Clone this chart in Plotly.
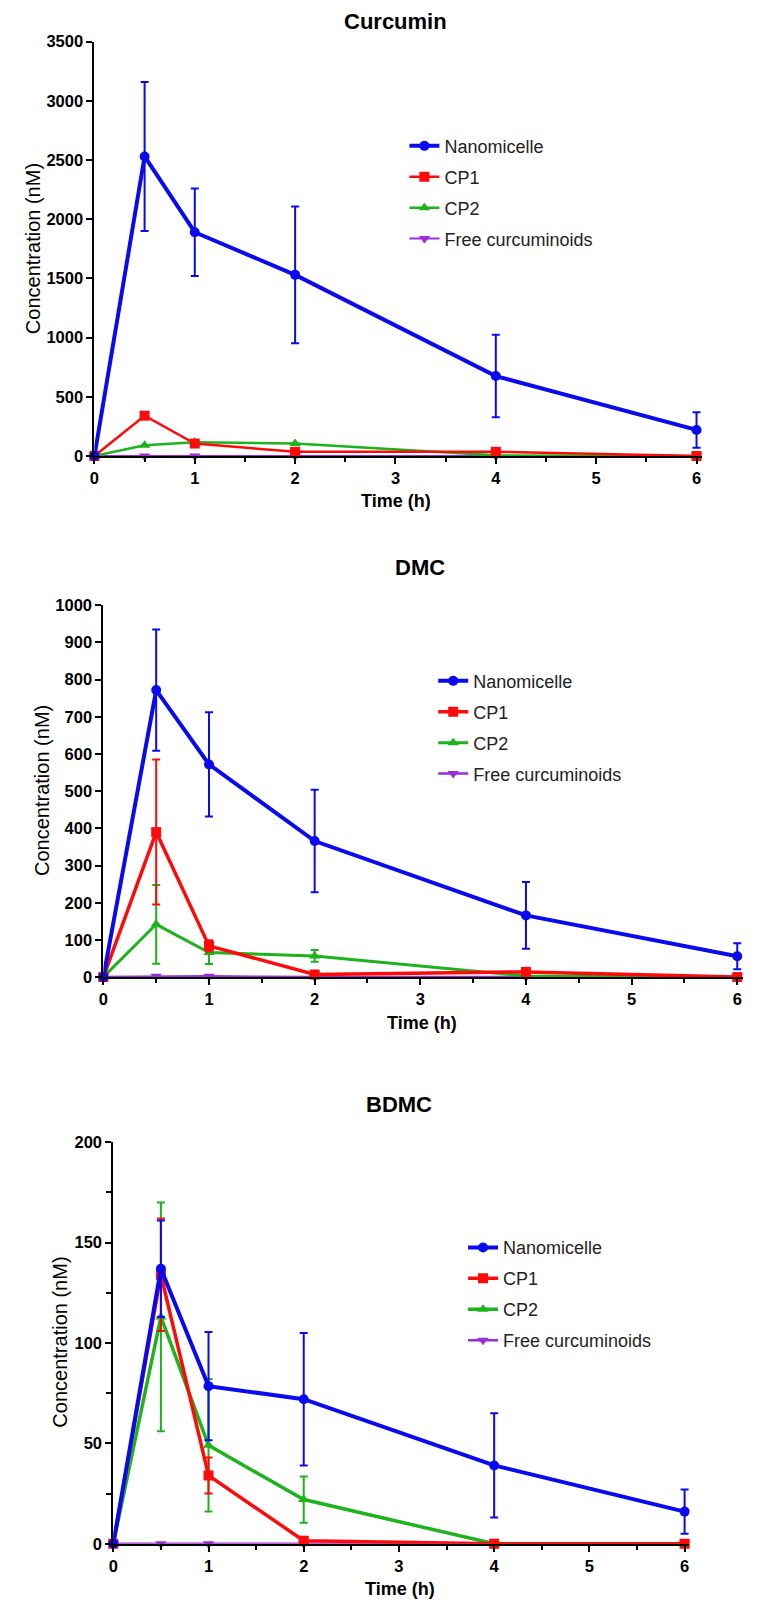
import plotly.graph_objects as go

W, H = 778, 1617

time = [0, 0.5, 1, 2, 4, 6]
series_names = ["Nanomicelle", "CP1", "CP2", "Free curcuminoids"]
panel_titles = ["Curcumin", "DMC", "BDMC"]
x_ticks = [0, 1, 2, 3, 4, 5, 6]

# Curcumin
cur_nano = [0, 2530, 1890, 1530, 675, 220]
cur_nano_err = [0, 630, 370, 577, 348, 150]
cur_cp1 = [0, 340, 105, 35, 35, 0]
cur_cp2 = [0, 90, 115, 105, 5, 0]
cur_free = [0, 0, 0, 0, 0, 0]

# DMC
dmc_nano = [0, 772, 572, 366, 166, 56]
dmc_nano_err = [0, 163, 140, 138, 90, 35]
dmc_cp1 = [0, 390, 84, 7, 14, 0]
dmc_cp1_err = [0, 195, 15, 0, 0, 0]
dmc_cp2 = [0, 142, 66, 57, 3, 0]
dmc_cp2_err = [0, 106, 31, 16, 0, 0]
dmc_free = [0, 2, 2, 0, 0, 0]

# BDMC
bdmc_nano = [0, 137, 78.5, 72, 39, 16]
bdmc_nano_err = [0, 24, 27, 33, 26, 11]
bdmc_cp1 = [0, 134, 34, 1.5, 0, 0]
bdmc_cp1_err = [0, 28, 9, 0, 0, 0]
bdmc_cp2 = [0, 113, 49, 22, 0, 0]
bdmc_cp2_err = [0, 57, 33, 11.5, 0, 0]
bdmc_free = [0, 0, 0, 0, 0, 0]

y_ranges = [[0, 3500], [0, 1000], [0, 200]]
y_dticks = [500, 100, 50]
y_minor = [None, None, 25]
X_MAX = 6.05

colors = {"Nanomicelle": "#0A0AEE", "CP1": "#FF0A0A", "CP2": "#1DB31D",
          "Free curcuminoids": "#9A2FD6"}
symbols = {"Nanomicelle": "circle", "CP1": "square", "CP2": "triangle-up",
           "Free curcuminoids": "triangle-down"}

panels = [
    {"nano": (cur_nano, cur_nano_err), "cp1": (cur_cp1, None), "cp2": (cur_cp2, None),
     "free": cur_free, "lw": [4, 2.5, 2.5, 2]},
    {"nano": (dmc_nano, dmc_nano_err), "cp1": (dmc_cp1, dmc_cp1_err), "cp2": (dmc_cp2, dmc_cp2_err),
     "free": dmc_free, "lw": [4, 3.5, 3, 2.5]},
    {"nano": (bdmc_nano, bdmc_nano_err), "cp1": (bdmc_cp1, bdmc_cp1_err), "cp2": (bdmc_cp2, bdmc_cp2_err),
     "free": bdmc_free, "lw": [4, 3.5, 3.5, 2.5]},
]

# pixel geometry in reference coords: (x at 0, x at 6, top, bottom)
boxes = [(90, 696, 33, 452), (99, 737, 603, 979), (109, 684, 1146, 1552)]
title_pos = [(393, 13), (418, 565), (397, 1108)]
xtitle_pos = [(394, 498), (420, 1025), (398, 1598)]
ytitle_pos = [(28, 242), (37, 790), (55, 1348)]
legend_pos = [(402, 120), (431, 661), (461, 1234)]


def fx(px):
    return px / W


def fy(py):
    return 1 - py / H


FONT = "Liberation Sans, Arial, sans-serif"

fig = go.Figure()

for i, p in enumerate(panels):
    ax = "" if i == 0 else str(i + 1)
    xa, ya = "x" + ax, "y" + ax
    leg = "legend" if i == 0 else "legend" + str(i + 1)
    ys = [p["nano"], p["cp1"], p["cp2"], (p["free"], None)]
    # draw back-to-front: free, cp2, cp1, nano
    for k in [3, 2, 1, 0]:
        name = series_names[k]
        yv, ev = ys[k]
        c = colors[name]
        tr = dict(
            x=time, y=yv, name=name, mode="lines+markers",
            line=dict(color=c, width=p["lw"][k]),
            marker=dict(symbol=symbols[name], size=10, color=c),
            xaxis=xa, yaxis=ya, legend=leg, legendrank=k + 1,
            legendgroup=f"g{i}_{k}", cliponaxis=False, showlegend=True,
        )
        if ev is not None:
            tr["error_y"] = dict(type="data", array=ev, visible=True, color=c,
                                 thickness=2, width=4)
        fig.add_trace(go.Scatter(**tr))

    l, r, t, b = boxes[i]
    r_ext = l + (r - l) * X_MAX / 6
    fig.layout["xaxis" + ax] = dict(
        domain=[fx(l), fx(r_ext)], anchor=ya, range=[0, X_MAX], tickvals=x_ticks,
        showline=True, linecolor="black", linewidth=2, ticks="outside",
        ticklen=6, tickwidth=2, tickcolor="black", showgrid=False, zeroline=False,
        tickfont=dict(family=FONT, size=16.5, color="black", weight="bold"),
        minor=dict(dtick=0.5, ticks="outside", ticklen=4, tickwidth=2, tickcolor="black",
                   showgrid=False),
        fixedrange=True,
    )
    yd = dict(
        domain=[fy(b), fy(t)], anchor=xa, range=y_ranges[i], dtick=y_dticks[i],
        tick0=0, showline=True, linecolor="black", linewidth=2, ticks="outside",
        ticklen=6, tickwidth=2, tickcolor="black", showgrid=False, zeroline=False,
        tickfont=dict(family=FONT, size=16.5, color="black", weight="bold"),
        fixedrange=True,
    )
    if y_minor[i]:
        yd["minor"] = dict(dtick=y_minor[i], ticks="outside", ticklen=5, tickwidth=2,
                           tickcolor="black", showgrid=False)
    fig.layout["yaxis" + ax] = yd

    lx, ly = legend_pos[i]
    fig.layout[leg] = dict(
        x=fx(lx), y=fy(ly), xanchor="left", yanchor="top",
        font=dict(family=FONT, size=18, color="#222222"),
        bgcolor="rgba(0,0,0,0)", traceorder="grouped", tracegroupgap=4.5,
    )

    tx, ty = title_pos[i]
    fig.add_annotation(text=panel_titles[i], x=fx(tx), y=fy(ty), xref="paper", yref="paper",
                       showarrow=False, xanchor="center", yanchor="middle",
                       font=dict(family=FONT, size=22, color="black", weight="bold"))
    xx, xy = xtitle_pos[i]
    fig.add_annotation(text="Time (h)", x=fx(xx), y=fy(xy), xref="paper", yref="paper",
                       showarrow=False, xanchor="center", yanchor="middle",
                       font=dict(family=FONT, size=18, color="black", weight="bold"))
    yx, yy = ytitle_pos[i]
    fig.add_annotation(text="Concentration (nM)", x=fx(yx), y=fy(yy), xref="paper", yref="paper",
                       showarrow=False, xanchor="center", yanchor="middle", textangle=-90,
                       font=dict(family=FONT, size=20, color="black"))

fig.update_layout(
    width=W, height=H, margin=dict(l=0, r=0, t=0, b=0),
    paper_bgcolor="white", plot_bgcolor="white", showlegend=True,
)

# remove the browser's default 8px body margin so the figure fills the window exactly
fig.write_html("out.html", config={"displayModeBar": False},
               post_script="document.body.style.margin='0';")
